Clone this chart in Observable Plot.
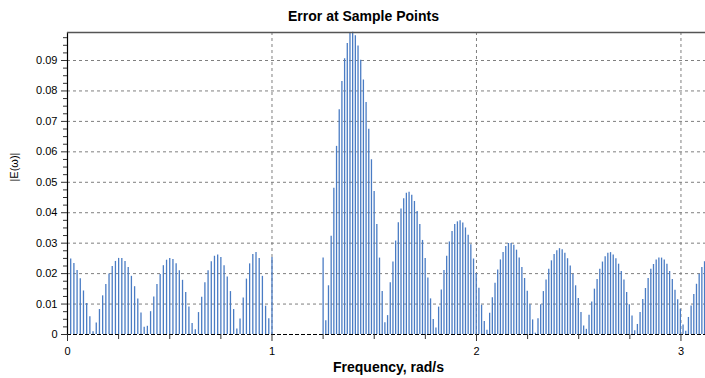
<!DOCTYPE html>
<html><head><meta charset="utf-8">
<script src="https://cdn.jsdelivr.net/npm/d3@7"></script>
<script src="https://cdn.jsdelivr.net/npm/@observablehq/plot@0.6"></script>
<style>html,body{margin:0;padding:0;background:#fff;overflow:hidden} svg{display:block}</style>
</head><body><div id="chart"></div>
<script>
const title = "Error at Sample Points";
const xLabel = "Frequency, rad/s";
const yLabel = "|E(\u03C9)|";

// passband samples: k/64, k = 1..64
const passbandStep = 1 / 64;
const passError = [
  0.0248,0.0233,0.0210,0.0183,0.0143,0.0102,0.0058,0.0009,0.0038,0.0082,
  0.0127,0.0164,0.0199,0.0223,0.0240,0.0250,0.0250,0.0240,0.0220,0.0191,
  0.0157,0.0117,0.0071,0.0024,0.0027,0.0075,0.0123,0.0164,0.0197,0.0226,
  0.0244,0.0250,0.0246,0.0232,0.0209,0.0178,0.0138,0.0090,0.0036,0.0016,
  0.0072,0.0122,0.0170,0.0209,0.0239,0.0257,0.0261,0.0253,0.0226,0.0189,
  0.0141,0.0082,0.0018,0.0051,0.0120,0.0182,0.0232,0.0263,0.0269,0.0250,
  0.0191,0.0093,0.0052,0.0253
];

// stopband samples: 145 equally spaced points from 1.25 to pi (visible part)
const stopbandStart = 1.25;
const stopbandEnd = Math.PI;
const stopbandCount = 145;
const stopError = [
  0.0251,0.0045,0.0160,0.0323,0.0480,0.0618,0.0738,0.0831,0.0906,0.0956,
  0.0989,0.0993,0.0981,0.0948,0.0901,0.0836,0.0762,0.0674,0.0574,0.0470,
  0.0361,0.0251,0.0141,0.0039,0.0062,0.0170,0.0238,0.0307,0.0367,0.0412,
  0.0446,0.0464,0.0467,0.0457,0.0437,0.0404,0.0361,0.0309,0.0250,0.0186,
  0.0117,0.0049,0.0021,0.0090,0.0146,0.0210,0.0257,0.0304,0.0338,0.0361,
  0.0370,0.0374,0.0366,0.0350,0.0326,0.0295,0.0248,0.0200,0.0152,0.0096,
  0.0043,0.0014,0.0070,0.0121,0.0168,0.0212,0.0245,0.0269,0.0289,0.0299,
  0.0299,0.0293,0.0277,0.0251,0.0220,0.0184,0.0142,0.0098,0.0048,0.0004,
  0.0052,0.0098,0.0141,0.0179,0.0214,0.0242,0.0263,0.0275,0.0282,0.0278,
  0.0267,0.0249,0.0225,0.0198,0.0160,0.0118,0.0072,0.0028,0.0017,0.0063,
  0.0107,0.0149,0.0181,0.0214,0.0238,0.0255,0.0267,0.0269,0.0261,0.0249,
  0.0231,0.0207,0.0179,0.0138,0.0098,0.0061,0.0012,0.0033,0.0072,0.0115,
  0.0151,0.0184,0.0214,0.0230,0.0245,0.0251,0.0251,0.0245,0.0231,0.0207,
  0.0181,0.0145,0.0114,0.0083,0.0031,0.0011,0.0056,0.0094,0.0131,0.0165,
  0.0198,0.0220,0.0239
];

const xTicks = [0, 1, 2, 3];
const xMinorTicks = [0.25,0.5,0.75,1.25,1.5,1.75,2.25,2.5,2.75];
const yTicks = [0,0.01,0.02,0.03,0.04,0.05,0.06,0.07,0.08,0.09];
const yTickLabels = ["0","0.01","0.02","0.03","0.04","0.05","0.06","0.07","0.08","0.09"];
const yMinorTicks = d3.range(0, 0.099, 0.0025).filter(v => Math.abs(v / 0.01 - Math.round(v / 0.01)) > 1e-6);

const stopStep = (stopbandEnd - stopbandStart) / (stopbandCount - 1);
const samples = [
  ...passError.map((e, i) => ({f: (i + 1) * passbandStep, e})),
  ...stopError.map((e, i) => ({f: stopbandStart + i * stopStep, e}))
];

const yMax = 0.0992;
const grid = {stroke: "#7f7f7f", strokeOpacity: 1, strokeWidth: 1, strokeDasharray: "3,3"};

const chart = Plot.plot({
  width: 705,
  height: 378,
  marginLeft: 67,
  marginRight: 0,
  marginTop: 32,
  marginBottom: 44,
  style: {fontFamily: "'Liberation Sans', Arial, sans-serif", fontSize: "11px", color: "#000", background: "#fff"},
  x: {domain: [0, 3.12]},
  y: {domain: [0, yMax]},
  marks: [
    Plot.gridX(xTicks.filter(d => d > 0), grid),
    Plot.gridY(yTicks.filter(d => d > 0), grid),
    Plot.ruleX(samples, {x: "f", y1: 0, y2: "e", stroke: "#4a7cc4", strokeWidth: 1.3}),
    Plot.ruleY([0], {stroke: "#000", strokeWidth: 1.2, strokeDasharray: "4,2"}),
    Plot.ruleX([0], {stroke: "#000", strokeWidth: 1.2}),
    Plot.ruleY([yMax], {stroke: "#555", strokeWidth: 1.5}),
    Plot.axisY(yTicks, {tickSize: 6, tickPadding: 4, tickFormat: (d, i) => yTickLabels[i], label: null, stroke: "#333"}),
    Plot.axisY(yMinorTicks, {tickSize: 4, tickFormat: () => "", label: null, stroke: "#333"}),
    Plot.axisX(xTicks, {tickSize: 7, tickPadding: 6, tickFormat: d => String(d), label: null, stroke: "#333"}),
    Plot.axisX(xMinorTicks, {tickSize: 5, tickFormat: () => "", label: null, stroke: "#333"}),
    Plot.text([title], {frameAnchor: "top", dy: -21, dx: -23, fontWeight: "bold", fontSize: 14, fill: "#000"}),
    Plot.text([xLabel], {frameAnchor: "bottom", dy: 37, dx: 2, fontWeight: "bold", fontSize: 14, fill: "#000"}),
    Plot.text([yLabel], {frameAnchor: "left", dx: -53, dy: -2, rotate: -90, fontSize: 11, fill: "#000"})
  ]
});
document.getElementById("chart").append(chart);
</script>
</body></html>
